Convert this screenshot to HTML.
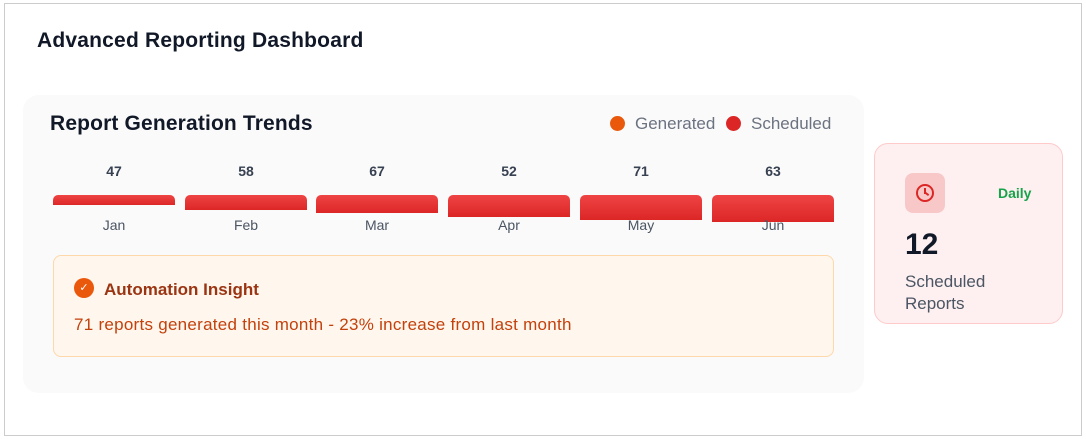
<!DOCTYPE html>
<html><head><style>
*{box-sizing:border-box;margin:0;padding:0}
body{width:1086px;height:439px;background:#fff;font-family:"Liberation Sans",sans-serif;position:relative;overflow:hidden}
.frame{position:absolute;left:4px;top:3px;width:1078px;height:433px;border:1px solid #ccc}
.abs{position:absolute;white-space:nowrap}
.panel{position:absolute;left:23px;top:95px;width:841px;height:298px;background:#fafafa;border-radius:16px}
.bar{position:absolute;top:195px;width:122px;border-radius:5px 5px 0 0;background:linear-gradient(#ef4444,#dc2626)}
.val{position:absolute;top:163px;width:122px;text-align:center;font-size:14px;font-weight:bold;color:#374151}
.lab{position:absolute;top:217px;width:122px;text-align:center;font-size:14px;color:#4b5563}
</style></head><body>
<div class="frame"></div>
<div class="abs" style="left:37px;top:29px;font-size:21px;letter-spacing:0.2px;font-weight:bold;color:#111827">Advanced Reporting Dashboard</div>
<div class="panel"></div>
<div class="abs" style="left:50px;top:112px;font-size:21px;letter-spacing:0.15px;font-weight:bold;color:#111827">Report Generation Trends</div>
<div class="abs" style="left:610px;top:116px;width:15px;height:15px;border-radius:50%;background:#ea580c"></div>
<div class="abs" style="left:635px;top:114px;font-size:17px;color:#6b7280">Generated</div>
<div class="abs" style="left:726px;top:116px;width:15px;height:15px;border-radius:50%;background:#dc2626"></div>
<div class="abs" style="left:751px;top:114px;font-size:17px;color:#6b7280">Scheduled</div>

<div class="bar" style="left:53px;height:10px"></div>
<div class="bar" style="left:185px;height:15px"></div>
<div class="bar" style="left:316px;height:18px"></div>
<div class="bar" style="left:448px;height:22px"></div>
<div class="bar" style="left:580px;height:25px"></div>
<div class="bar" style="left:712px;height:27px"></div>
<div class="val" style="left:53px">47</div><div class="lab" style="left:53px">Jan</div>
<div class="val" style="left:185px">58</div><div class="lab" style="left:185px">Feb</div>
<div class="val" style="left:316px">67</div><div class="lab" style="left:316px">Mar</div>
<div class="val" style="left:448px">52</div><div class="lab" style="left:448px">Apr</div>
<div class="val" style="left:580px">71</div><div class="lab" style="left:580px">May</div>
<div class="val" style="left:712px">63</div><div class="lab" style="left:712px">Jun</div>

<div class="abs" style="left:53px;top:255px;width:781px;height:102px;background:#fff7ed;border:1px solid #fed7aa;border-radius:8px"></div>
<div class="abs" style="left:74px;top:278px;width:20px;height:20px;border-radius:50%;background:#ea580c;color:#fff;font-size:11px;text-align:center;line-height:20px">✓</div>
<div class="abs" style="left:104px;top:280px;font-size:17px;font-weight:bold;color:#9a3412">Automation Insight</div>
<div class="abs" style="left:74px;top:315px;font-size:17px;letter-spacing:0.27px;color:#c2410c">71 reports generated this month - 23% increase from last month</div>

<div class="abs" style="left:874px;top:143px;width:189px;height:181px;background:#fef0f0;border:1px solid #fecaca;border-radius:14px"></div>
<div class="abs" style="left:905px;top:173px;width:40px;height:40px;border-radius:8px;background:#f8c8c8"></div>
<div class="abs" style="left:916px;top:184px;width:18px;height:18px;border:2px solid #dc2626;border-radius:50%"></div>
<div class="abs" style="left:924px;top:188px;width:2px;height:6px;background:#dc2626"></div>
<div class="abs" style="left:925px;top:193px;width:4px;height:2px;background:#dc2626;transform:rotate(35deg)"></div>
<div class="abs" style="left:998px;top:185px;font-size:14px;font-weight:bold;color:#16a34a">Daily</div>
<div class="abs" style="left:905px;top:228px;font-size:30px;font-weight:bold;color:#111827">12</div>
<div class="abs" style="left:905px;top:271px;font-size:17px;line-height:22px;color:#4b5563">Scheduled<br>Reports</div>
</body></html>
